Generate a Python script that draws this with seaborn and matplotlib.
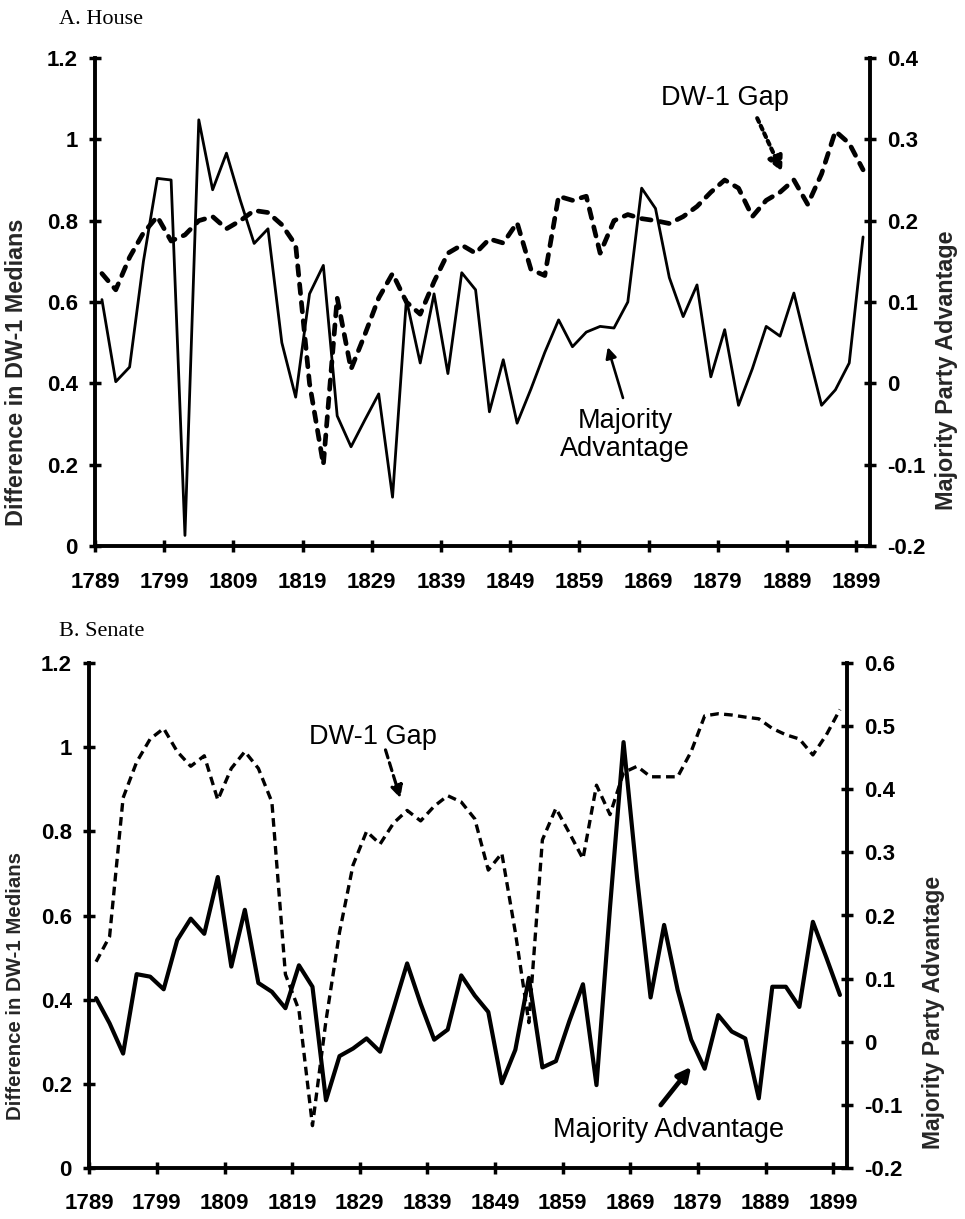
import matplotlib
matplotlib.use("Agg")
import matplotlib.pyplot as plt
from matplotlib.ticker import FuncFormatter
import seaborn as sns

# Congress years (plotted at the even year of each Congress)
years = list(range(1790, 1901, 2))
tick_years = list(range(1789, 1900, 10))

# House: difference in DW-1 party medians (left axis)
house_gap = [0.67, 0.63, 0.71, 0.77, 0.81, 0.75,
             0.765, 0.80, 0.81, 0.78, 0.80, 0.825, 0.82, 0.79, 0.74, 0.40,
             0.20, 0.61, 0.435, 0.52, 0.61, 0.67, 0.60, 0.57, 0.65, 0.72,
             0.74, 0.72, 0.755, 0.745, 0.795, 0.68, 0.665, 0.86, 0.85, 0.86,
             0.72, 0.80, 0.815, 0.805, 0.80, 0.793, 0.81, 0.835, 0.87, 0.90,
             0.88, 0.81, 0.85, 0.87, 0.90, 0.84, 0.915, 1.02, 0.99, 0.925]

# House: majority party advantage (right axis)
house_adv = [0.103, 0.002, 0.02, 0.15, 0.252, 0.25,
             -0.187, 0.324, 0.238, 0.283, 0.225, 0.172, 0.19, 0.05, -0.017, 0.11,
             0.145, -0.04, -0.078, -0.045, -0.013, -0.14, 0.103, 0.025, 0.11, 0.012,
             0.136, 0.115, -0.035, 0.029, -0.049, -0.007, 0.038, 0.078, 0.045, 0.063,
             0.07, 0.068, 0.10, 0.24, 0.215, 0.13, 0.082, 0.121, 0.008, 0.066,
             -0.027, 0.018, 0.07, 0.058, 0.111, 0.041, -0.027, -0.008, 0.025, 0.18]

# Senate: difference in DW-1 party medians (left axis)
senate_gap = [0.49, 0.55, 0.88, 0.965, 1.02, 1.045,
              0.99, 0.955, 0.98, 0.875, 0.95, 0.99, 0.95, 0.87, 0.46, 0.375,
              0.10, 0.35, 0.56, 0.72, 0.80, 0.77, 0.82, 0.85, 0.825, 0.86,
              0.885, 0.87, 0.83, 0.708, 0.748, 0.56, 0.345, 0.78, 0.855, 0.796,
              0.735, 0.91, 0.84, 0.94, 0.955, 0.93, 0.93, 0.93, 0.99, 1.075,
              1.08, 1.077, 1.072, 1.068, 1.045, 1.03, 1.02, 0.982, 1.03, 1.09]

# Senate: majority party advantage (right axis)
senate_adv = [0.069, 0.029, -0.019, 0.107, 0.103, 0.083,
              0.161, 0.195, 0.171, 0.261, 0.119, 0.209, 0.093, 0.079, 0.053, 0.121,
              0.087, -0.093, -0.023, -0.011, 0.005, -0.016, 0.053, 0.124, 0.06, 0.003,
              0.019, 0.105, 0.073, 0.047, -0.066, -0.013, 0.101, -0.041, -0.031, 0.033,
              0.091, -0.069, 0.213, 0.475, 0.26, 0.07, 0.185, 0.082, 0.003, -0.043,
              0.042, 0.016, 0.005, -0.09, 0.087, 0.087, 0.055, 0.19, 0.133, 0.074]

left_ticks = [0, 0.2, 0.4, 0.6, 0.8, 1.0, 1.2]
house_right_ticks = [-0.2, -0.1, 0, 0.1, 0.2, 0.3, 0.4]
senate_right_ticks = [-0.2, -0.1, 0, 0.1, 0.2, 0.3, 0.4, 0.5, 0.6]

sns.set_theme(style="ticks")
plt.rcParams["font.family"] = ["Liberation Sans", "DejaVu Sans"]
plt.rcParams["font.weight"] = "bold"
plt.rcParams["text.color"] = "black"
plt.rcParams["axes.edgecolor"] = "black"
plt.rcParams["xtick.color"] = "black"
plt.rcParams["ytick.color"] = "black"

W, H = 965, 1219
fig = plt.figure(figsize=(W / 100, H / 100), dpi=100)
fig.patch.set_facecolor("white")

fmt = FuncFormatter(lambda v, p: f"{v:g}")


def panel(rect, gap, adv, right_ticks, gap_lw, gap_dashes, gap_cap, adv_lw,
          left_fs, right_fs, left_lab_xy, right_lab_xy):
    ax = fig.add_axes(rect)
    ax2 = ax.twinx()
    sns.lineplot(x=years, y=gap, ax=ax, color="black", linewidth=gap_lw)
    ln = ax.lines[-1]
    ln.set_dashes(gap_dashes)
    ln.set_dash_capstyle(gap_cap)
    sns.lineplot(x=years, y=adv, ax=ax2, color="black", linewidth=adv_lw)

    ax.set_xlim(1789, 1901)
    ax.set_ylim(0, 1.2)
    ax2.set_ylim(right_ticks[0], right_ticks[-1])
    ax.set_xticks(tick_years)
    ax.set_yticks(left_ticks)
    ax2.set_yticks(right_ticks)
    ax.yaxis.set_major_formatter(fmt)
    ax2.yaxis.set_major_formatter(fmt)

    for a in (ax, ax2):
        a.set_facecolor("none")
        a.grid(False)
        a.spines["top"].set_visible(False)
        for s in a.spines.values():
            s.set_linewidth(2.8)
            s.set_color("black")
    ax.spines["right"].set_visible(False)
    ax2.spines["left"].set_visible(False)
    ax2.spines["bottom"].set_visible(False)

    ax.tick_params(axis="x", direction="inout", length=9, width=2.5,
                   labelsize=16, pad=14)
    ax.tick_params(axis="y", direction="inout", length=9, width=2.5,
                   labelsize=16, pad=8)
    ax2.tick_params(axis="y", direction="inout", length=9, width=2.5,
                    labelsize=16, pad=8)

    ax.set_xlabel("")
    ax.set_ylabel("Difference in DW-1 Medians", fontsize=left_fs,
                  fontweight="bold", rotation=90, va="center", ha="center")
    ax.yaxis.set_label_coords(*left_lab_xy)
    ax2.set_ylabel("Majority Party Advantage", fontsize=right_fs,
                   fontweight="bold", rotation=90, va="center", ha="center")
    ax2.yaxis.set_label_coords(*right_lab_xy)
    return ax, ax2


# ---- A. House ----
axA, axA2 = panel([95 / W, 1 - 546 / H, 775 / W, 488 / H],
                  house_gap, house_adv, house_right_ticks,
                  gap_lw=3.4, gap_dashes=[2.0, 1.9], gap_cap="round", adv_lw=2.0,
                  left_fs=16.8, right_fs=16.8,
                  left_lab_xy=(-0.101, 0.356), right_lab_xy=(1.099, 0.361))

axA.text(1880.0, 1.101, "DW-1 Gap", fontsize=19.5, fontweight="normal",
         ha="center", va="center")
axA.annotate("", xy=(1888.3, 0.92), xytext=(1884.7, 1.052),
             arrowprops=dict(arrowstyle="-|>", color="black", lw=3.0,
                             linestyle=(0, (1.0, 1.0)), mutation_scale=22,
                             shrinkA=0, shrinkB=0))
axA.text(1865.6, 0.272, "Majority\nAdvantage", fontsize=19.5,
         fontweight="normal", ha="center", va="center", linespacing=1.1)
axA.annotate("", xy=(1863.1, 0.489), xytext=(1865.3, 0.364),
             arrowprops=dict(arrowstyle="-|>", color="black", lw=1.9,
                             mutation_scale=16, shrinkA=0, shrinkB=0))

# ---- B. Senate ----
axB, axB2 = panel([89.3 / W, 1 - 1167.7 / H, 757.4 / W, 504.4 / H],
                  senate_gap, senate_adv, senate_right_ticks,
                  gap_lw=2.4, gap_dashes=[2.6, 1.6], gap_cap="butt", adv_lw=3.0,
                  left_fs=14.7, right_fs=16.5,
                  left_lab_xy=(-0.098, 0.360), right_lab_xy=(1.114, 0.307))

axB.text(1831.0, 1.025, "DW-1 Gap", fontsize=19.5, fontweight="normal",
         ha="center", va="center")
axB.annotate("", xy=(1835.0, 0.879), xytext=(1832.8, 0.994),
             arrowprops=dict(arrowstyle="-|>", color="black", lw=2.3,
                             linestyle=(0, (2.6, 1.6)), mutation_scale=18,
                             shrinkA=0, shrinkB=0))
axB.text(1874.7, 0.0897, "Majority Advantage", fontsize=19.5,
         fontweight="normal", ha="center", va="center")
axB.annotate("", xy=(1878.0, 0.240), xytext=(1873.5, 0.149),
             arrowprops=dict(arrowstyle="-|>", color="black", lw=3.4,
                             mutation_scale=20, shrinkA=0, shrinkB=0))

# Panel titles
fig.text(59 / W, 1 - 24 / H, "A. House", family=["Liberation Serif"],
         fontsize=16, fontweight="normal", va="baseline", ha="left")
fig.text(59 / W, 1 - 636 / H, "B. Senate", family=["Liberation Serif"],
         fontsize=16, fontweight="normal", va="baseline", ha="left")

fig.savefig("out.png", dpi=100, facecolor="white")
